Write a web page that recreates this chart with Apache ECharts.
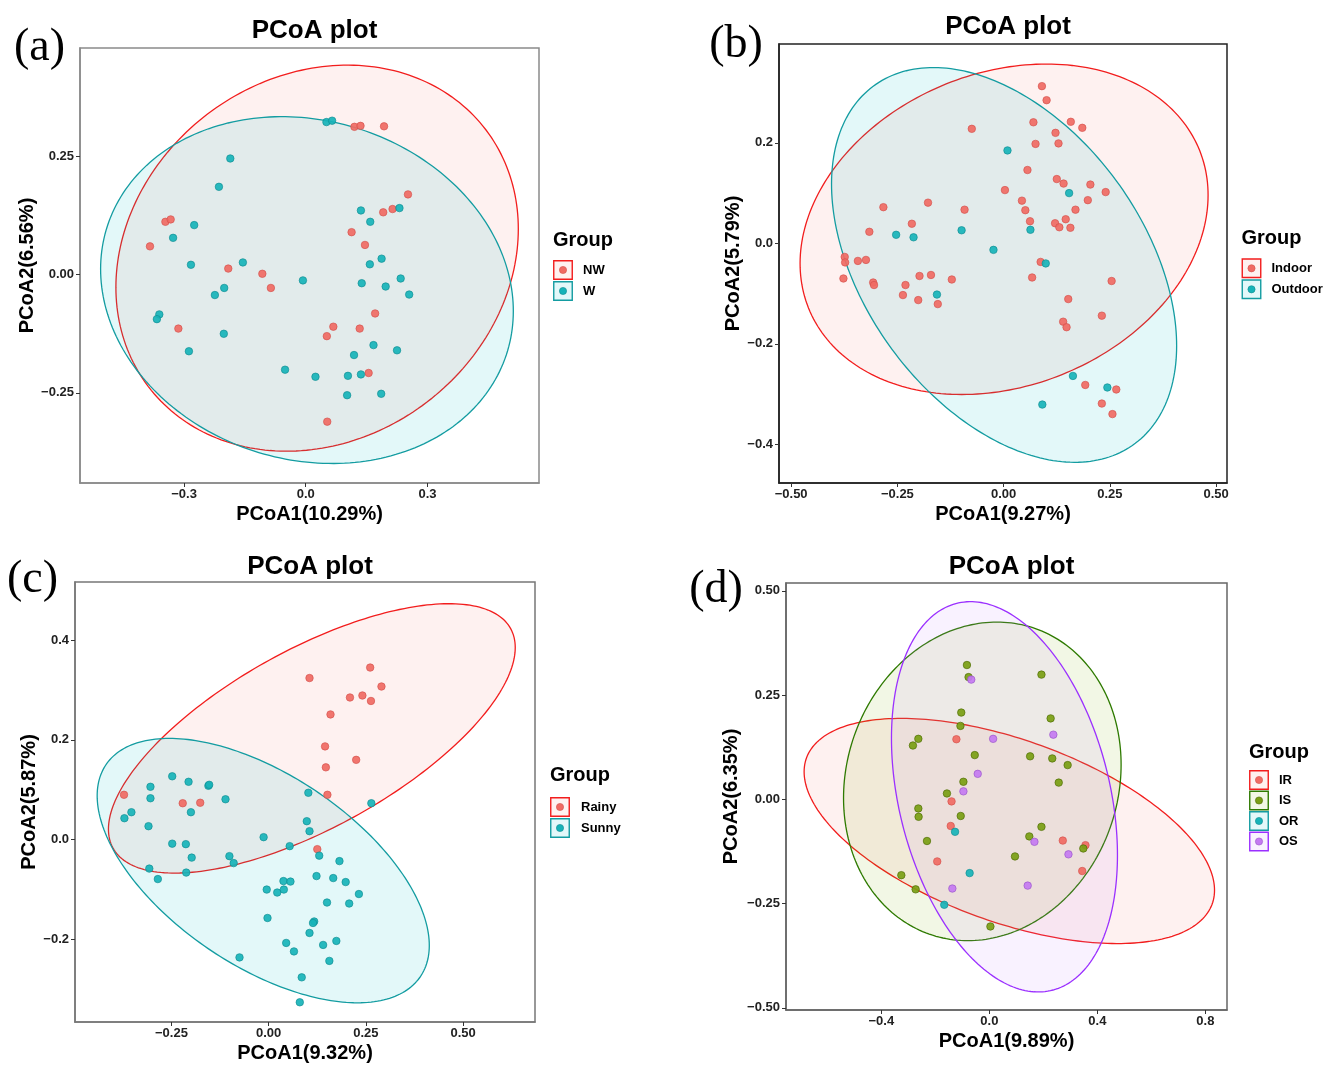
<!DOCTYPE html>
<html>
<head>
<meta charset="utf-8">
<script src="https://cdn.jsdelivr.net/npm/echarts@6/dist/echarts.min.js"></script>
<style>html,body{margin:0;padding:0;background:#fff;}#chart{width:1337px;height:1065px;}</style>
</head>
<body>
<div id="chart"></div>
<script>
// ---------------- DATA ----------------
// Panel (a)
const aGroups = ['NW', 'W'];
const aNW = [[0.120,0.313],[0.135,0.315],[0.193,0.314],[0.252,0.170],[0.191,0.132],[0.214,0.139],[0.113,0.090],[0.146,0.063],[-0.346,0.112],[-0.333,0.117],[-0.384,0.060],[-0.191,0.013],[-0.107,0.002],[-0.086,-0.028],[-0.314,-0.114],[0.171,-0.082],[0.068,-0.110],[0.052,-0.130],[0.133,-0.114],[0.155,-0.208],[0.053,-0.311]];
const aW = [[0.051,0.323],[0.065,0.326],[-0.186,0.246],[-0.214,0.186],[0.136,0.136],[0.231,0.141],[0.159,0.112],[-0.275,0.105],[-0.327,0.078],[-0.283,0.021],[-0.155,0.026],[-0.007,-0.012],[-0.201,-0.028],[-0.224,-0.043],[0.187,0.034],[0.158,0.022],[0.138,-0.018],[0.197,-0.025],[0.234,-0.008],[0.255,-0.042],[-0.361,-0.084],[-0.367,-0.094],[-0.202,-0.125],[-0.288,-0.162],[0.167,-0.149],[0.119,-0.170],[0.225,-0.160],[-0.051,-0.201],[0.024,-0.216],[0.104,-0.214],[0.136,-0.211],[0.102,-0.255],[0.186,-0.252]];
// ellipse: [centerX, centerY, halfWidthX, halfHeightY, yOffsetAtXExtreme]
const aEllNW = [0.028, 0.035, 0.496, 0.4085, 0.0618];
const aEllW = [0.003, -0.0325, 0.5087, 0.367, -0.0445];
const aXTicks = [-0.3, 0, 0.3];
const aYTicks = [-0.25, 0, 0.25];
const aXTitle = 'PCoA1(10.29%)';
const aYTitle = 'PCoA2(6.56%)';

// Panel (b)
const bGroups = ['Indoor', 'Outdoor'];
const bIndoor = [[0.090,0.313],[0.101,0.285],[0.070,0.241],[0.158,0.242],[0.185,0.230],[-0.075,0.228],[0.122,0.220],[0.075,0.198],[0.129,0.199],[0.056,0.146],[0.125,0.128],[0.141,0.119],[0.204,0.117],[0.003,0.106],[0.240,0.102],[0.043,0.085],[0.198,0.086],[0.051,0.066],[0.169,0.067],[0.062,0.044],[0.121,0.040],[0.131,0.032],[0.146,0.048],[0.157,0.031],[-0.178,0.081],[-0.092,0.067],[-0.283,0.072],[-0.216,0.039],[-0.316,0.023],[-0.374,-0.027],[-0.373,-0.038],[-0.343,-0.035],[-0.324,-0.033],[-0.377,-0.070],[-0.307,-0.078],[-0.305,-0.083],[-0.198,-0.065],[-0.171,-0.063],[-0.122,-0.072],[-0.231,-0.083],[-0.237,-0.103],[-0.201,-0.113],[-0.155,-0.121],[0.087,-0.037],[0.067,-0.068],[0.254,-0.075],[0.152,-0.111],[0.231,-0.144],[0.140,-0.156],[0.148,-0.167],[0.192,-0.282],[0.265,-0.291],[0.231,-0.319],[0.256,-0.340]];
const bOutdoor = [[0.009,0.185],[0.154,0.100],[-0.099,0.026],[0.063,0.027],[-0.253,0.017],[-0.212,0.012],[-0.024,-0.013],[0.099,-0.040],[-0.157,-0.102],[0.163,-0.264],[0.244,-0.287],[0.091,-0.321]];
const bEllIndoor = [0.001, 0.028, 0.480, 0.329, 0.068];
const bEllOutdoor = [0.001, -0.043, 0.406, 0.393, -0.161];
const bXTicks = [-0.5, -0.25, 0, 0.25, 0.5];
const bYTicks = [-0.4, -0.2, 0, 0.2];
const bXTitle = 'PCoA1(9.27%)';
const bYTitle = 'PCoA2(5.79%)';

// Panel (c)
const cGroups = ['Rainy', 'Sunny'];
const cRainy = [[0.261,0.345],[0.105,0.324],[0.290,0.307],[0.209,0.285],[0.241,0.289],[0.263,0.278],[0.159,0.251],[0.145,0.187],[0.225,0.160],[0.147,0.145],[0.151,0.090],[-0.372,0.090],[-0.221,0.073],[-0.176,0.074],[0.125,-0.019]];
const cSunny = [[-0.248,0.127],[-0.206,0.116],[-0.304,0.106],[-0.155,0.108],[-0.153,0.110],[-0.304,0.083],[-0.111,0.081],[0.102,0.094],[0.264,0.073],[-0.353,0.055],[-0.200,0.055],[-0.371,0.043],[-0.309,0.027],[0.098,0.037],[0.105,0.017],[-0.013,0.005],[-0.248,-0.008],[-0.213,-0.009],[0.054,-0.013],[-0.198,-0.036],[-0.101,-0.033],[-0.090,-0.047],[0.130,-0.032],[0.182,-0.043],[-0.307,-0.058],[-0.212,-0.066],[-0.285,-0.079],[0.123,-0.073],[0.166,-0.077],[0.198,-0.085],[0.038,-0.083],[0.056,-0.084],[-0.005,-0.100],[0.022,-0.106],[0.039,-0.100],[0.232,-0.109],[0.150,-0.126],[0.207,-0.128],[-0.003,-0.157],[0.117,-0.164],[0.114,-0.167],[0.105,-0.187],[0.045,-0.207],[0.065,-0.224],[0.140,-0.211],[0.174,-0.203],[0.156,-0.243],[-0.075,-0.236],[0.085,-0.276],[0.080,-0.326]];
const cEllRainy = [0.111, 0.203, 0.523, 0.270, 0.182];
const cEllSunny = [-0.014, -0.062, 0.427, 0.265, -0.150];
const cXTicks = [-0.25, 0, 0.25, 0.5];
const cYTicks = [-0.2, 0, 0.2, 0.4];
const cXTitle = 'PCoA1(9.32%)';
const cYTitle = 'PCoA2(5.87%)';

// Panel (d)
const dGroups = ['IR', 'IS', 'OR', 'OS'];
const dIR = [[-0.122,0.144],[-0.140,-0.005],[-0.143,-0.064],[0.272,-0.099],[0.356,-0.110],[-0.193,-0.149],[0.344,-0.172]];
const dIS = [[-0.083,0.322],[-0.077,0.293],[0.193,0.299],[-0.104,0.208],[-0.107,0.176],[0.227,0.194],[-0.263,0.145],[-0.283,0.129],[-0.054,0.106],[0.151,0.103],[0.233,0.098],[0.290,0.082],[0.257,0.040],[-0.096,0.042],[-0.157,0.014],[-0.263,-0.022],[-0.262,-0.042],[-0.106,-0.040],[0.193,-0.066],[0.148,-0.089],[-0.231,-0.100],[0.095,-0.137],[0.348,-0.118],[-0.326,-0.182],[-0.273,-0.216],[0.004,-0.305]];
const dOR = [[-0.127,-0.078],[-0.073,-0.177],[-0.167,-0.253]];
const dOS = [[-0.067,0.287],[0.014,0.145],[0.237,0.155],[-0.043,0.061],[-0.096,0.019],[0.167,-0.102],[0.293,-0.132],[-0.137,-0.214],[0.142,-0.207]];
const dEllIR = [0.074, -0.076, 0.760, 0.270, -0.142];
const dEllIS = [-0.026, 0.043, 0.514, 0.382, 0.040];
const dEllOS = [0.056, 0.006, 0.4185, 0.468, -0.140];
const dXTicks = [-0.4, 0, 0.4, 0.8];
const dYTicks = [-0.5, -0.25, 0, 0.25, 0.5];
const dXTitle = 'PCoA1(9.89%)';
const dYTitle = 'PCoA2(6.35%)';

const plotTitle = 'PCoA plot';
const legendTitle = 'Group';
const panelLabels = ['(a)', '(b)', '(c)', '(d)'];

// ---------------- STYLE ----------------
const SANS = '"Liberation Sans", Arial, Helvetica, sans-serif';
const SERIF = '"Liberation Serif", "Times New Roman", serif';
const C = {
  red:    {line:'#F21D1D', fill:'rgba(248,118,109,0.10)', pt:'#F06A63', ptb:'#D4504A'},
  teal:   {line:'#139CA1', fill:'rgba(0,191,196,0.11)',  pt:'#17B3B8', ptb:'#0E8C91'},
  green:  {line:'#2E7A00', fill:'rgba(124,174,0,0.10)',  pt:'#7A9E14', ptb:'#4B6A00'},
  purple: {line:'#9B30FF', fill:'rgba(199,124,255,0.10)', pt:'#C47AF2', ptb:'#9852C8'}
};

const panels = [
  {grid:{left:80, top:48, width:459, height:435}, border:'#8a8a8a', xr:[-0.5565,0.575], yr:[-0.4408,0.4798], xt:aXTicks, yt:aYTicks, xd:1, yd:2, xn:aXTitle, yn:aYTitle, xGap:31, yGap:53, titleTop:13},
  {grid:{left:779, top:44, width:448, height:439}, border:'#222', xr:[-0.5286,0.5255], yr:[-0.4772,0.3969], xt:bXTicks, yt:bYTicks, xd:2, yd:1, xn:bXTitle, yn:bYTitle, xGap:31, yGap:45, titleTop:9},
  {grid:{left:75, top:582, width:460, height:440}, border:'#777', xr:[-0.498,0.6848], yr:[-0.3655,0.5165], xt:cXTicks, yt:cYTicks, xd:2, yd:1, xn:cXTitle, yn:cYTitle, xGap:31, yGap:46, titleTop:549},
  {grid:{left:786, top:583, width:441, height:427}, border:'#666', xr:[-0.7531,0.8802], yr:[-0.5053,0.5187], xt:dXTicks, yt:dYTicks, xd:1, yd:2, xn:dXTitle, yn:dYTitle, xGap:31, yGap:55, titleTop:549}
];

function fmt(d){ return function(v){ return (v < 0 ? '\u2212' : '') + Math.abs(v).toFixed(d); }; }

const grids = [], xAxes = [], yAxes = [], titles = [];
panels.forEach(function(p, i){
  grids.push(Object.assign({show:true, backgroundColor:'#fff', borderColor:p.border, borderWidth:1.5, containLabel:false}, p.grid));
  const axisCommon = {
    gridIndex:i, type:'value', splitLine:{show:false},
    axisLine:{show:true, onZero:false, lineStyle:{color:p.border, width:1.5}},
    nameLocation:'middle',
    nameTextStyle:{fontFamily:SANS, fontSize:20, fontWeight:'bold', color:'#000', verticalAlign:'middle'}
  };
  xAxes.push(Object.assign({}, axisCommon, {
    min:p.xr[0], max:p.xr[1], name:p.xn, nameGap:p.xGap,
    axisTick:{show:true, length:4, inside:false, customValues:p.xt, lineStyle:{color:'#333', width:1}},
    axisLabel:{customValues:p.xt, formatter:fmt(p.xd), fontFamily:SANS, fontSize:13, fontWeight:'bold', color:'#222', margin:5}
  }));
  yAxes.push(Object.assign({}, axisCommon, {
    min:p.yr[0], max:p.yr[1], name:p.yn, nameGap:p.yGap, nameRotate:90,
    axisTick:{show:true, length:4, inside:false, customValues:p.yt, lineStyle:{color:'#333', width:1}},
    axisLabel:{customValues:p.yt, formatter:fmt(p.yd), fontFamily:SANS, fontSize:13, fontWeight:'bold', color:'#222', margin:6}
  }));
  titles.push({text:plotTitle, left:p.grid.left + p.grid.width/2, top:p.titleTop, textAlign:'center',
    textStyle:{fontFamily:SANS, fontSize:26, fontWeight:'bold', color:'#000'}});
});

function ellipse(idx, name, par, col){
  return {
    type:'custom', name:name, xAxisIndex:idx, yAxisIndex:idx, silent:true, clip:true, z:1,
    data:[par],
    renderItem:function(params, api){
      const cx = api.value(0), cy = api.value(1), rx = api.value(2), ry = api.value(3), kx = api.value(4);
      const s = Math.sqrt(Math.max(ry*ry - kx*kx, 0));
      const pts = [];
      for (let k = 0; k <= 240; k++){
        const t = k / 240 * Math.PI * 2;
        pts.push(api.coord([cx + rx*Math.cos(t), cy + kx*Math.cos(t) + s*Math.sin(t)]));
      }
      return {type:'polygon', shape:{points:pts}, style:{fill:col.fill, stroke:col.line, lineWidth:1.3}};
    }
  };
}
function points(idx, name, data, col){
  return {
    type:'scatter', name:name, xAxisIndex:idx, yAxisIndex:idx, data:data, symbolSize:7.5, z:3,
    itemStyle:{color:col.pt, borderColor:col.ptb, borderWidth:0.7, opacity:0.92}
  };
}

const series = [
  ellipse(0, 'NW', aEllNW, C.red), ellipse(0, 'W', aEllW, C.teal),
  points(0, 'NW', aNW, C.red), points(0, 'W', aW, C.teal),
  ellipse(1, 'Indoor', bEllIndoor, C.red), ellipse(1, 'Outdoor', bEllOutdoor, C.teal),
  points(1, 'Indoor', bIndoor, C.red), points(1, 'Outdoor', bOutdoor, C.teal),
  ellipse(2, 'Rainy', cEllRainy, C.red), ellipse(2, 'Sunny', cEllSunny, C.teal),
  points(2, 'Rainy', cRainy, C.red), points(2, 'Sunny', cSunny, C.teal),
  ellipse(3, 'IR', dEllIR, C.red), ellipse(3, 'IS', dEllIS, C.green), ellipse(3, 'OS', dEllOS, C.purple),
  points(3, 'IR', dIR, C.red), points(3, 'IS', dIS, C.green), points(3, 'OR', dOR, C.teal), points(3, 'OS', dOS, C.purple)
];

// ---------------- LEGENDS & LABELS (graphic) ----------------
const graphics = [];
function legend(x, titleY, keyTop, step, labelX, labels, cols){
  graphics.push({type:'text', x:x, y:titleY, style:{text:legendTitle, font:'bold 20px ' + SANS, fill:'#000', textAlign:'left', textVerticalAlign:'middle'}});
  labels.forEach(function(lab, i){
    const top = keyTop + i*step;
    graphics.push({type:'rect', shape:{x:x + 0.75, y:top + 0.75, width:18.5, height:18.5}, style:{fill:cols[i].fill, stroke:cols[i].line, lineWidth:1.4}});
    graphics.push({type:'circle', shape:{cx:x + 10, cy:top + 10, r:3.6}, style:{fill:cols[i].pt, stroke:cols[i].ptb, lineWidth:0.6}});
    graphics.push({type:'text', x:labelX, y:top + 10, style:{text:lab, font:'bold 13px ' + SANS, fill:'#000', textAlign:'left', textVerticalAlign:'middle'}});
  });
}
legend(553, 240.5, 260, 21, 583, aGroups, [C.red, C.teal]);
legend(1241.5, 238.5, 258.3, 21, 1271.5, bGroups, [C.red, C.teal]);
legend(550, 775, 797, 21, 581, cGroups, [C.red, C.teal]);
legend(1249, 752, 770, 20.5, 1279, dGroups, [C.red, C.green, C.teal, C.purple]);

const labelPos = [[39.5, 48], [736, 45], [32.5, 580], [716, 590]];
panelLabels.forEach(function(t, i){
  graphics.push({type:'text', x:labelPos[i][0], y:labelPos[i][1], style:{text:t, font:'46px ' + SERIF, fill:'#000', textAlign:'center', textVerticalAlign:'middle'}});
});

const chart = echarts.init(document.getElementById('chart'), null, {renderer:'canvas', width:1337, height:1065});
chart.setOption({
  animation:false,
  backgroundColor:'#fff',
  title:titles,
  grid:grids,
  xAxis:xAxes,
  yAxis:yAxes,
  series:series,
  graphic:{elements:graphics}
});
</script>
</body>
</html>
